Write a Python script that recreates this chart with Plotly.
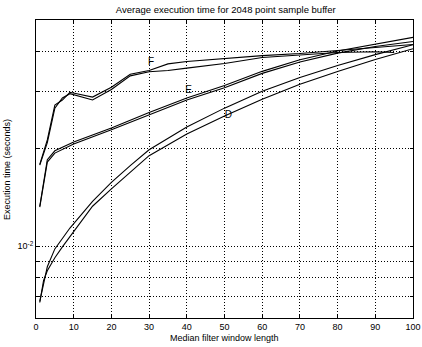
import plotly.graph_objects as go

# ---- data ----
x_f1 = [1, 3, 5, 7, 9, 15, 20, 25, 30, 35, 40, 50, 60, 70, 80, 90, 100]
y_f1 = [0.0179, 0.0213, 0.0273, 0.0283, 0.0299, 0.0289, 0.0310, 0.0340, 0.0349,
        0.0366, 0.0372, 0.0380, 0.0388, 0.0394, 0.0402, 0.0411, 0.0420]
x_f2 = [1, 3, 5, 7, 9, 15, 20, 25, 30, 35, 40, 50, 60, 70, 80, 90, 95]
y_f2 = [0.0178, 0.0209, 0.0267, 0.0287, 0.0296, 0.0283, 0.0305, 0.0336, 0.0346,
        0.0349, 0.0355, 0.0367, 0.0383, 0.0390, 0.0397, 0.0399, 0.0397]

x_e = [1, 3, 5, 10, 20, 30, 40, 50, 60, 70, 80, 90, 100]
y_e1 = [0.01329, 0.01851, 0.01972, 0.0210, 0.0232, 0.0259, 0.0287, 0.0314,
        0.0347, 0.0377, 0.0401, 0.0422, 0.0442]
y_e2 = [0.01320, 0.0182, 0.0194, 0.0207, 0.0229, 0.0255, 0.0283, 0.0309,
        0.0342, 0.0371, 0.0395, 0.0414, 0.0429]

x_d = [1, 2, 3, 5, 7, 9, 15, 20, 25, 30, 40, 50, 60, 70, 80, 90, 100]
y_d1 = [0.00675, 0.00772, 0.00864, 0.00981, 0.01053, 0.01138, 0.01376, 0.01574,
        0.01774, 0.01986, 0.02336, 0.02671, 0.03011, 0.03323, 0.03617, 0.03908, 0.04195]
y_d2 = [0.0067, 0.00783, 0.0084, 0.00921, 0.00995, 0.01068, 0.01329, 0.01503,
        0.01695, 0.01904, 0.02223, 0.02524, 0.02846, 0.03164, 0.03467, 0.03773, 0.04078]

label_text = ["F", "E", "D"]
label_x = [30.5, 40.5, 51]
label_y = [0.0369, 0.0302, 0.0254]

y_tickvals = [0.006, 0.007, 0.008, 0.009, 0.01, 0.02, 0.03, 0.04, 0.05]
y_ticktext = ["", "", "", "", "10<sup>-2</sup>", "", "", "", ""]
x_tickvals = [0, 10, 20, 30, 40, 50, 60, 70, 80, 90, 100]

title = "Average execution time for 2048 point sample buffer"
xlabel = "Median filter window length"
ylabel = "Execution time (seconds)"

FONT = "Liberation Sans, Arial, sans-serif"
DOT = "1px,2px"

fig = go.Figure()
line = dict(color="black", width=1.1)
for xs, ys in [(x_f1, y_f1), (x_f2, y_f2), (x_e, y_e1), (x_e, y_e2), (x_d, y_d1), (x_d, y_d2)]:
    fig.add_trace(go.Scatter(x=xs, y=ys, mode="lines", line=line,
                             showlegend=False, hoverinfo="skip"))

fig.add_trace(go.Scatter(x=label_x, y=label_y, mode="text", text=label_text,
                         textfont=dict(family=FONT, size=10, color="black"),
                         showlegend=False, hoverinfo="skip"))

fig.update_layout(
    width=422, height=347,
    margin=dict(l=36, r=9, t=20, b=29, autoexpand=False),
    paper_bgcolor="white", plot_bgcolor="white",
    font=dict(family=FONT, size=9, color="black"),
    title=dict(text=title, x=0.535, xanchor="center", y=0.972, yanchor="middle",
               font=dict(family=FONT, size=9.5, color="black")),
    showlegend=False,
    annotations=[
        dict(text=xlabel, xref="paper", yref="paper", x=0.5, y=-0.068,
             xanchor="center", yanchor="middle", showarrow=False,
             font=dict(family=FONT, size=9, color="black")),
        dict(text=ylabel, xref="paper", yref="paper", x=-0.077, y=0.5,
             xanchor="center", yanchor="middle", textangle=-90, showarrow=False,
             font=dict(family=FONT, size=9, color="black")),
    ],
)
fig.update_xaxes(
    range=[0, 100], tickvals=x_tickvals, ticks="inside", ticklen=3,
    tickcolor="black", showline=True, linecolor="black", linewidth=1, mirror="ticks",
    showgrid=True, gridcolor="black", griddash=DOT, gridwidth=1, zeroline=False,
    tickfont=dict(family=FONT, size=9), automargin=False,
)
fig.update_yaxes(
    type="log", range=[-2.2218, -1.301], tickvals=y_tickvals, ticktext=y_ticktext,
    ticks="inside", ticklen=3, tickcolor="black",
    showline=True, linecolor="black", linewidth=1, mirror="ticks",
    showgrid=True, gridcolor="black", griddash=DOT, gridwidth=1, zeroline=False,
    tickfont=dict(family=FONT, size=9), automargin=False,
)

fig.write_html("out.html", config={"displayModeBar": False},
               post_script="document.body.style.margin='0';document.body.style.overflow='hidden';")
